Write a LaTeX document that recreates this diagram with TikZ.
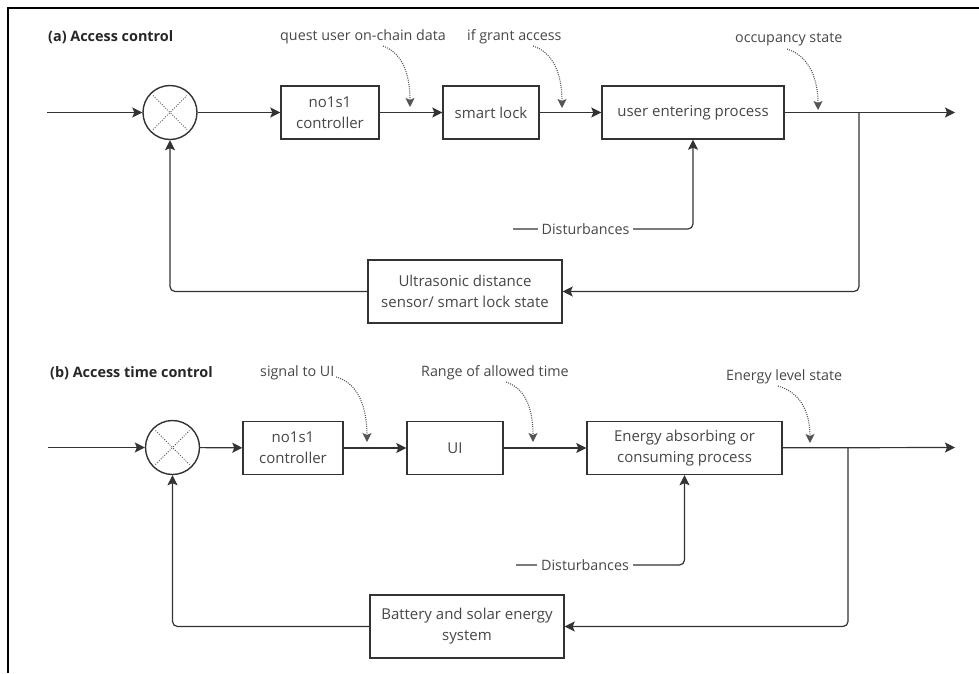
\documentclass[tikz,border=0pt]{standalone}
\usepackage{fontspec}
\setmainfont{Open Sans}
\usetikzlibrary{arrows.meta,calc}
\definecolor{ln}{HTML}{333333}
\definecolor{tx}{HTML}{474747}
\definecolor{dt}{HTML}{555555}
\begin{document}
\begin{tikzpicture}[x=1pt,y=-1pt,
  font=\fontsize{14.3}{20}\selectfont,
  blk/.style={draw=ln,line width=1.4pt,text=tx,align=center,inner sep=2pt,fill=white,font=\fontsize{15}{21}\selectfont},
  sumc/.style={draw=ln,line width=1.4pt,circle,minimum size=54pt,inner sep=0pt},
  arr/.style={draw=ln,line width=1.2pt,-{Stealth[length=10pt,width=10pt,inset=2pt]}},
  ln/.style={draw=ln,line width=1.2pt},
  dotarr/.style={draw=dt,line width=1.1pt,dash pattern=on 1pt off 1.2pt,-{Stealth[length=9pt,width=9pt,inset=2pt]}},
  crs/.style={draw=dt,line width=0.8pt,dash pattern=on 1pt off 1.5pt},
  lbl/.style={text=tx,anchor=west,inner sep=0pt},
  ttl/.style={text=black!85,anchor=west,inner sep=0pt,font=\fontsize{14.4}{18}\selectfont\bfseries},
  dlbl/.style={text=tx,fill=white,inner xsep=4pt,inner ysep=1pt}]
\useasboundingbox (0,0) rectangle (979,673);
% frame
\draw[line width=2.2pt,black] (8,673) -- (8,8) -- (979,8);

% ===================== (a) =====================
\node[ttl] (ta) at (48,37) {(a) Access control};
\coordinate (inA) at (47,112.5);
\node[sumc] (sA) at (170,112.5) {};
\draw[crs] ($(sA)+(-17,-17)$) -- ($(sA)+(17,17)$);
\draw[crs] ($(sA)+(-17,17)$) -- ($(sA)+(17,-17)$);
\node[blk,minimum width=98pt,minimum height=53pt] (cA) at (330,112.5) {no1s1\\controller};
\node[blk,minimum width=96pt,minimum height=53pt] (lA) at (491,112.5) {smart lock};
\node[blk,minimum width=182pt,minimum height=53pt] (uA) at (693,112.5) {user entering process};
\node[blk,minimum width=194pt,minimum height=63pt] (fA) at (465,291.5) {Ultrasonic distance\\sensor/ smart lock state};
\coordinate (brA) at (859,112.5);
\coordinate (outA) at (955,112.5);

\draw[arr] (inA) -- (sA);
\draw[arr] (sA) -- (cA);
\draw[arr] (cA) -- (lA);
\draw[arr] (lA) -- (uA);
\draw[arr] (uA) -- (outA);
\draw[arr,rounded corners=5pt] (brA) -- (859,291.5) -- (fA.east);
\draw[arr,rounded corners=5pt] (fA.west) -- (170,291.5) -- (sA.south);

\coordinate (dA) at (513,229);
\draw[arr,rounded corners=5pt] (dA) -- (693,229) -- (uA.south);
\node[dlbl] (dlA) at (585.5,229) {Disturbances};

\node[lbl] (q1) at (280,37) {quest user on-chain data};
\node[lbl] (q2) at (467,37) {if grant access};
\node[lbl] (q3) at (735,40) {occupancy state};
\coordinate (q1s) at (383,46);
\coordinate (q1e) at (410,107);
\coordinate (q2s) at (533,46);
\coordinate (q2e) at (562,108);
\coordinate (q3s) at (787,49);
\coordinate (q3e) at (818,110);
\draw[dotarr] (q1s) .. controls (400,52) and (410,70) .. (q1e);
\draw[dotarr] (q2s) .. controls (552,52) and (562,72) .. (q2e);
\draw[dotarr] (q3s) .. controls (806,55) and (818,74) .. (q3e);

% ===================== (b) =====================
\node[ttl] (tb) at (50,373) {(b) Access time control};
\coordinate (inB) at (48,447.5);
\node[sumc] (sB) at (172.5,447.5) {};
\draw[crs] ($(sB)+(-17,-17)$) -- ($(sB)+(17,17)$);
\draw[crs] ($(sB)+(-17,17)$) -- ($(sB)+(17,-17)$);
\node[blk,minimum width=100pt,minimum height=53pt] (cB) at (293,448) {no1s1\\controller};
\node[blk,minimum width=96pt,minimum height=53pt] (uiB) at (455,448) {UI};
\node[blk,minimum width=195pt,minimum height=53pt] (eB) at (684.5,448) {Energy absorbing or\\consuming process};
\node[blk,minimum width=194pt,minimum height=63pt] (fB) at (467,626.5) {Battery and solar energy\\system};
\coordinate (brB) at (848,447.5);
\coordinate (outB) at (955,447.5);

\draw[arr] (inB) -- (sB);
\draw[arr] (sB) -- (cB);
\draw[arr] (cB) -- (uiB);
\draw[arr] (uiB) -- (eB);
\draw[arr] (eB) -- (outB);
\draw[arr,rounded corners=5pt] (brB) -- (848,626.5) -- (fB.east);
\draw[arr,rounded corners=5pt] (fB.west) -- (172.5,626.5) -- (sB.south);

\coordinate (dB) at (516,565);
\draw[arr,rounded corners=5pt] (dB) -- (684.5,565) -- (eB.south);
\node[dlbl] (dlB) at (585,565) {Disturbances};

\node[lbl] (r1) at (260,373) {signal to UI};
\node[lbl] (r2) at (421,373) {Range of allowed time};
\node[lbl] (r3) at (726,377) {Energy level state};
\coordinate (r1s) at (336,377);
\coordinate (r1e) at (367,442);
\coordinate (r2s) at (506,382);
\coordinate (r2e) at (533,442);
\coordinate (r3s) at (778,386);
\coordinate (r3e) at (810,443);
\draw[dotarr] (r1s) .. controls (356,382) and (367,404) .. (r1e);
\draw[dotarr] (r2s) .. controls (524,388) and (533,406) .. (r2e);
\draw[dotarr] (r3s) .. controls (799,392) and (810,410) .. (r3e);
\end{tikzpicture}
\end{document}
